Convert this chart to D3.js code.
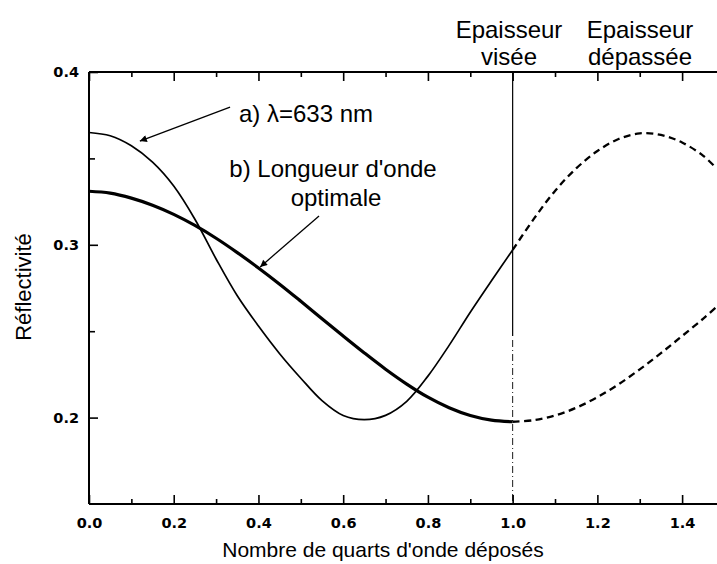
<!DOCTYPE html>
<html><head><meta charset="utf-8">
<script src="https://cdn.jsdelivr.net/npm/d3@7/dist/d3.min.js"></script>
<style>
html,body{margin:0;padding:0;background:#fff;}
svg{display:block;}
text{fill:#000;}
</style></head>
<body>
<svg id="chart" width="717" height="564"></svg>
<script>
// ---- data ----
const xSolid = [0.00,0.05,0.10,0.15,0.20,0.25,0.30,0.35,0.40,0.45,0.50,0.55,0.60,0.65,0.70,0.75,0.80,0.85,0.90,0.95,1.00];
const reflA  = [0.365,0.3631,0.3573,0.3478,0.3340,0.3148,0.2918,0.2705,0.2530,0.2370,0.2228,0.2098,0.2012,0.1988,0.2013,0.2094,0.2240,0.2418,0.2610,0.2792,0.2970];
const reflB  = [0.331,0.3299,0.3270,0.3229,0.3176,0.3112,0.3038,0.2955,0.2866,0.2772,0.2673,0.2572,0.2472,0.2374,0.2280,0.2194,0.2118,0.2057,0.2012,0.1985,0.1976];
const xDashed = [1.00,1.05,1.10,1.15,1.20,1.25,1.30,1.35,1.40,1.45,1.48];
const reflADashed = [0.2970,0.3150,0.3312,0.3442,0.3543,0.3612,0.3645,0.3636,0.3592,0.3515,0.3445];
const reflBDashed = [0.1976,0.1985,0.2012,0.2057,0.2118,0.2193,0.2279,0.2373,0.2472,0.2573,0.2638];
const xMajorTicks = [0,0.2,0.4,0.6,0.8,1.0,1.2,1.4];
const xTickLabels = ["0.0","0.2","0.4","0.6","0.8","1.0","1.2","1.4"];
const xMinorTicks = [0.1,0.3,0.5,0.7,0.9,1.1,1.3];
const yMajorTicks = [0.2,0.3,0.4];
const yTickLabels = ["0.2","0.3","0.4"];
const yMinorTicks = [0.25,0.35];
const xTitle = "Nombre de quarts d'onde déposés";
const yTitle = "Réflectivité";
const labelA = "a) λ=633 nm";
const labelB = ["b) Longueur d'onde","optimale"];
const zoneLabels = [["Epaisseur","visée"],["Epaisseur","dépassée"]];

// ---- layout ----
const svg = d3.select("#chart");
const L = 89, R = 716, T = 72, B = 504;
const x = d3.scaleLinear().domain([0,1.48]).range([L,R]);
const y = d3.scaleLinear().domain([0.15,0.4]).range([B,T]);
const sansFont = "'Liberation Sans', Arial, Helvetica, sans-serif";

svg.append("defs").append("clipPath").attr("id","plot")
  .append("rect").attr("x",L).attr("y",T-2).attr("width",717-L).attr("height",B-T+4);

function styleAxis(g){
  g.select(".domain").remove();
  g.selectAll("line").attr("stroke","#000").attr("stroke-width",1.6);
  g.selectAll("text").attr("font-family","'DejaVu Sans', sans-serif").attr("font-weight","bold").attr("font-size","14.5px").attr("fill","#000");
}
const xAxisB = d3.axisBottom(x).tickValues(xMajorTicks).tickFormat((d,i)=>xTickLabels[i]).tickSizeInner(-9).tickSizeOuter(0).tickPadding(14);
svg.append("g").attr("transform",`translate(0,${B})`).call(xAxisB).call(styleAxis);
const xAxisBm = d3.axisBottom(x).tickValues(xMinorTicks).tickFormat("").tickSizeInner(-5).tickSizeOuter(0);
svg.append("g").attr("transform",`translate(0,${B})`).call(xAxisBm).call(styleAxis);
const xAxisT = d3.axisTop(x).tickValues(xMajorTicks).tickFormat("").tickSizeInner(-9).tickSizeOuter(0);
svg.append("g").attr("transform",`translate(0,${T})`).call(xAxisT).call(styleAxis);
const xAxisTm = d3.axisTop(x).tickValues(xMinorTicks).tickFormat("").tickSizeInner(-5).tickSizeOuter(0);
svg.append("g").attr("transform",`translate(0,${T})`).call(xAxisTm).call(styleAxis);
const yAxis = d3.axisLeft(y).tickValues(yMajorTicks).tickFormat((d,i)=>yTickLabels[i]).tickSizeInner(-9).tickSizeOuter(0).tickPadding(10);
svg.append("g").attr("transform",`translate(${L},0)`).call(yAxis).call(styleAxis);
const yAxisM = d3.axisLeft(y).tickValues(yMinorTicks).tickFormat("").tickSizeInner(-6).tickSizeOuter(0);
svg.append("g").attr("transform",`translate(${L},0)`).call(yAxisM).call(styleAxis);

// frame lines
svg.append("line").attr("x1",L).attr("x2",717).attr("y1",B).attr("y2",B).attr("stroke","#000").attr("stroke-width",2);
svg.append("line").attr("x1",L).attr("x2",717).attr("y1",T).attr("y2",T).attr("stroke","#000").attr("stroke-width",2);
svg.append("line").attr("x1",L).attr("x2",L).attr("y1",T).attr("y2",B).attr("stroke","#000").attr("stroke-width",2);

// vertical line at 1.0
svg.append("line").attr("x1",x(1)).attr("x2",x(1)).attr("y1",T).attr("y2",336)
  .attr("stroke","#000").attr("stroke-width",1.2);
svg.append("line").attr("x1",x(1)).attr("x2",x(1)).attr("y1",340).attr("y2",B)
  .attr("stroke","#000").attr("stroke-width",0.9).attr("stroke-dasharray","7,3,1,3");

// curves
const line = d3.line().x(d=>x(d[0])).y(d=>y(d[1])).curve(d3.curveCatmullRom.alpha(0.5));
const plotG = svg.append("g").attr("clip-path","url(#plot)");
plotG.append("path").datum(xSolid.map((v,i)=>[v,reflA[i]])).attr("d",line)
  .attr("fill","none").attr("stroke","#000").attr("stroke-width",1.7);
plotG.append("path").datum(xSolid.map((v,i)=>[v,reflB[i]])).attr("d",line)
  .attr("fill","none").attr("stroke","#000").attr("stroke-width",3.2);
plotG.append("path").datum(xDashed.map((v,i)=>[v,reflADashed[i]])).attr("d",line)
  .attr("fill","none").attr("stroke","#000").attr("stroke-width",2.3).attr("stroke-dasharray","7,4.5");
plotG.append("path").datum(xDashed.map((v,i)=>[v,reflBDashed[i]])).attr("d",line)
  .attr("fill","none").attr("stroke","#000").attr("stroke-width",2.3).attr("stroke-dasharray","7,4.5");

// arrows
svg.select("defs").append("marker").attr("id","arr").attr("viewBox","0 0 10 10")
  .attr("refX",10).attr("refY",5).attr("markerWidth",13).attr("markerHeight",7)
  .attr("markerUnits","userSpaceOnUse").attr("orient","auto")
  .append("path").attr("d","M0,0 L10,5 L0,10 Z").attr("fill","#000");
function arrow(x0,y0,x1,y1){
  svg.append("line").attr("x1",x(x0)).attr("y1",y(y0)).attr("x2",x(x1)).attr("y2",y(y1))
    .attr("stroke","#000").attr("stroke-width",1.3).attr("marker-end","url(#arr)");
}
arrow(0.333,0.3797,0.12,0.360);
arrow(0.543,0.3167,0.404,0.2872);

// annotation texts
const fs = "24px";
svg.append("text").attr("x",239).attr("y",122).attr("font-family",sansFont).attr("font-size",fs).text(labelA);
svg.append("text").attr("x",333).attr("y",177).attr("text-anchor","middle").attr("font-family",sansFont).attr("font-size",fs).text(labelB[0]);
svg.append("text").attr("x",336).attr("y",206).attr("text-anchor","middle").attr("font-family",sansFont).attr("font-size",fs).text(labelB[1]);
const zoneX = [509,640];
zoneLabels.forEach((lab,i)=>{
  svg.append("text").attr("x",zoneX[i]).attr("y",38).attr("text-anchor","middle").attr("font-family",sansFont).attr("font-size",fs).text(lab[0]);
  svg.append("text").attr("x",zoneX[i]).attr("y",65).attr("text-anchor","middle").attr("font-family",sansFont).attr("font-size",fs).text(lab[1]);
});

// axis titles
svg.append("text").attr("x",383).attr("y",557).attr("text-anchor","middle").attr("font-family",sansFont).attr("font-size","21px").text(xTitle);
svg.append("text").attr("transform","translate(31,287) rotate(-90)").attr("text-anchor","middle").attr("font-family",sansFont).attr("font-size","22px").text(yTitle);
</script>
</body></html>
